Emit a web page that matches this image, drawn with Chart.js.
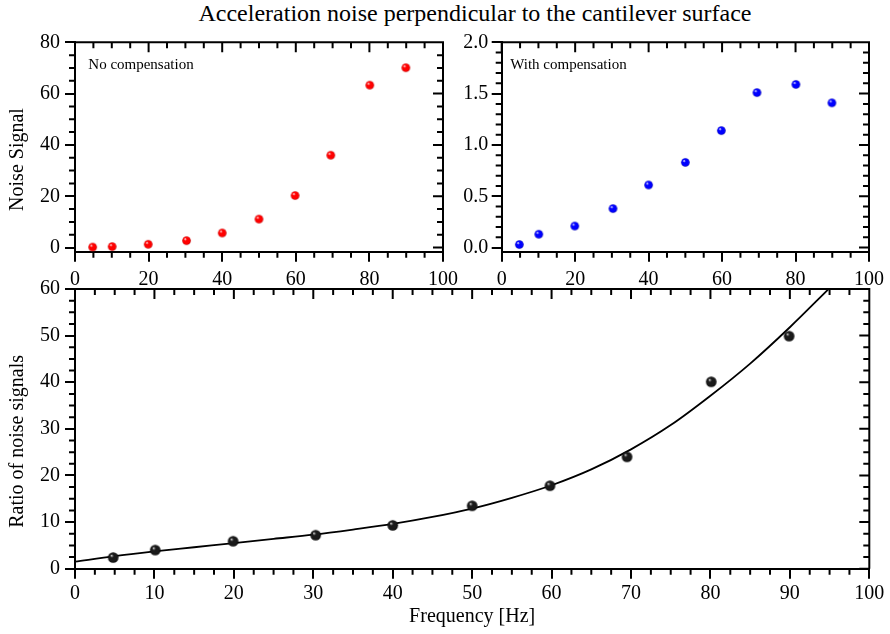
<!DOCTYPE html>
<html>
<head>
<meta charset="utf-8">
<script src="https://cdn.jsdelivr.net/npm/chart.js@4/dist/chart.umd.min.js"></script>
<style>
  html, body { margin: 0; padding: 0; background: #fff; }
  #page { position: relative; width: 890px; height: 634px; overflow: hidden; }
  .box { position: absolute; }
  .box canvas { display: block; }
  #title {
    position: absolute; left: 0; top: 1px; width: 950px;
    text-align: center; color: #000;
    font: 24px 'Liberation Serif', serif; line-height: 24px;
  }
</style>
</head>
<body>
<div id="page">
  <div id="title">Acceleration noise perpendicular to the cantilever surface</div>
  <div class="box" style="left:0;top:20px"><canvas id="cNoComp" width="470" height="270"></canvas></div>
  <div class="box" style="left:440px;top:20px"><canvas id="cComp" width="450" height="270"></canvas></div>
  <div class="box" style="left:0;top:270px"><canvas id="cRatio" width="890" height="364"></canvas></div>
</div>
<script>
// --- data ---
const freqHz = [4.8, 10.1, 19.9, 30.3, 40.0, 50.0, 59.8, 69.5, 80.1, 89.9];
const noCompSignal = [0.2, 0.4, 1.3, 2.7, 5.7, 11.1, 20.3, 36.0, 63.3, 70.1];
const compSignal = [0.03, 0.13, 0.21, 0.38, 0.61, 0.83, 1.14, 1.51, 1.59, 1.41];
const ratioSignal = [2.4, 4.0, 5.9, 7.2, 9.3, 13.5, 17.8, 24.0, 40.1, 49.9];

const fitHz = [0, 5, 10, 15, 20, 25, 30, 35, 40, 45, 50, 55, 60, 65, 70, 75, 80, 85, 90, 95];
const fitRatio = [1.5, 2.7, 3.7, 4.6, 5.5, 6.4, 7.3, 8.4, 9.6, 11.1, 12.9, 15.2, 17.9, 21.3, 25.6, 30.8, 37.1, 44.0, 51.8, 60.2];

// tick labels
const freqTicksTop = [0, 20, 40, 60, 80, 100];
const freqTicksBottom = [0, 10, 20, 30, 40, 50, 60, 70, 80, 90, 100];
const noCompTicks = [0, 20, 40, 60, 80];
const compTicks = [0, 0.5, 1.0, 1.5, 2.0];
const ratioTicks = [0, 10, 20, 30, 40, 50, 60];

const SERIF = "'Liberation Serif', 'Times New Roman', serif";
Chart.defaults.font.family = SERIF;
Chart.defaults.font.size = 20;
Chart.defaults.color = '#000';

const pts = (xs, ys) => xs.map((x, i) => ({ x: x, y: ys[i] }));

// shaded ball marker, used as pointStyle
function makeBall(r, light, mid, dark) {
    const c = document.createElement('canvas');
    const s = Math.ceil(r * 2) + 2;
    c.width = c.height = s;
    const g = c.getContext('2d');
    const cx = s / 2, cy = s / 2;
    const grad = g.createRadialGradient(cx - r * 0.35, cy - r * 0.4, r * 0.05, cx, cy, r);
    grad.addColorStop(0, light);
    grad.addColorStop(0.3, mid);
    grad.addColorStop(0.8, mid);
    grad.addColorStop(1, dark);
    g.fillStyle = grad;
    g.beginPath();
    g.arc(cx, cy, r, 0, Math.PI * 2);
    g.fill();
    return c;
}
const redBall = makeBall(4.3, '#ffffff', '#ff0000', '#c00000');
const blueBall = makeBall(4.3, '#ffffff', '#0000ff', '#0000b0');
const blackBall = makeBall(5.3, '#d8d8d8', '#1a1a1a', '#000000');

// frame on top/right, inward ticks there, minor ticks everywhere
const frameTicks = {
    id: 'frameTicks',
    afterDraw(chart, args, o) {
        const { ctx, chartArea: a } = chart;
        const x = chart.scales.x, y = chart.scales.y;
        const majX = x.ticks.map(t => t.value), majY = y.ticks.map(t => t.value);
        const isMaj = (v, arr) => arr.some(m => Math.abs(m - v) < 1e-6);
        ctx.save();
        ctx.strokeStyle = '#000';
        ctx.lineWidth = 2;
        ctx.beginPath();
        ctx.moveTo(a.left, a.top);
        ctx.lineTo(a.right, a.top);
        ctx.lineTo(a.right, a.bottom);
        for (let k = Math.ceil(x.min / o.xMinor - 1e-9); k * o.xMinor <= x.max + 1e-9; k++) {
            const v = k * o.xMinor, px = x.getPixelForValue(v);
            const major = isMaj(v, majX);
            const len = major ? 10 : 6;
            ctx.moveTo(px, a.top);
            ctx.lineTo(px, a.top + len);
            if (!major) {
                ctx.moveTo(px, a.bottom);
                ctx.lineTo(px, a.bottom + len);
            }
        }
        for (let k = Math.ceil(y.min / o.yMinor - 1e-9); k * o.yMinor <= y.max + 1e-9; k++) {
            const v = k * o.yMinor, py = y.getPixelForValue(v);
            const major = isMaj(v, majY);
            const len = major ? 10 : 6;
            ctx.moveTo(a.right, py);
            ctx.lineTo(a.right - len, py);
            if (!major) {
                ctx.moveTo(a.left, py);
                ctx.lineTo(a.left - len, py);
            }
        }
        ctx.stroke();
        if (o.label) {
            ctx.fillStyle = '#000';
            ctx.font = '15px ' + SERIF;
            ctx.textBaseline = 'alphabetic';
            ctx.fillText(o.label, a.left + o.labelDx, a.top + 27);
        }
        ctx.restore();
    }
};

function xAxis(tickVals, height, pad, title) {
    return {
        type: 'linear', min: 0, max: 100,
        afterBuildTicks: s => { s.ticks = tickVals.map(v => ({ value: v })); },
        afterFit: s => { s.height = height; },
        ticks: { padding: pad, maxRotation: 0, font: { family: SERIF, size: 20 } },
        grid: { drawOnChartArea: false, tickLength: 10, color: '#000', lineWidth: 2 },
        border: { color: '#000', width: 2 },
        title: title
            ? { display: true, text: title, font: { family: SERIF, size: 20 }, padding: { top: 0, bottom: 5 } }
            : { display: false }
    };
}

function yAxis(tickVals, min, max, width, pad, fmt, title) {
    return {
        type: 'linear', min: min, max: max,
        afterBuildTicks: s => { s.ticks = tickVals.map(v => ({ value: v })); },
        afterFit: s => { s.width = width; },
        ticks: { padding: pad, callback: fmt, font: { family: SERIF, size: 20 } },
        grid: { drawOnChartArea: false, tickLength: 10, color: '#000', lineWidth: 2 },
        border: { color: '#000', width: 2 },
        title: title
            ? { display: true, text: title, font: { family: SERIF, size: 20 }, padding: { top: 5.5, bottom: 0 } }
            : { display: false }
    };
}

const baseOpts = {
    responsive: false,
    animation: false,
    events: []
};

new Chart(document.getElementById('cNoComp'), {
    type: 'scatter',
    data: {
        datasets: [{
            label: 'No compensation',
            data: pts(freqHz, noCompSignal),
            pointStyle: redBall,
            pointRadius: 5
        }]
    },
    options: {
        ...baseOpts,
        layout: { padding: { left: 0, top: 22.3, right: 27, bottom: 0 } },
        plugins: {
            legend: { display: false },
            tooltip: { enabled: false },
            frameTicks: { xMinor: 5, yMinor: 5, label: 'No compensation', labelDx: 13.3 }
        },
        scales: {
            x: xAxis(freqTicksTop, 38.3, 6),
            y: yAxis(noCompTicks, -1.6, 80, 75, 5, v => v, 'Noise Signal     ')
        }
    },
    plugins: [frameTicks]
});

new Chart(document.getElementById('cComp'), {
    type: 'scatter',
    data: {
        datasets: [{
            label: 'With compensation',
            data: pts(freqHz, compSignal),
            pointStyle: blueBall,
            pointRadius: 5
        }]
    },
    options: {
        ...baseOpts,
        layout: { padding: { left: 0, top: 22.3, right: 20.7, bottom: 0 } },
        plugins: {
            legend: { display: false },
            tooltip: { enabled: false },
            frameTicks: { xMinor: 5, yMinor: 0.1, label: 'With compensation', labelDx: 8.5 }
        },
        scales: {
            x: xAxis(freqTicksTop, 38.3, 6),
            y: yAxis(compTicks, -0.04, 2.0, 61.7, 3.5, v => v.toFixed(1))
        }
    },
    plugins: [frameTicks]
});

new Chart(document.getElementById('cRatio'), {
    type: 'line',
    data: {
        datasets: [{
            label: 'Ratio',
            data: pts(freqHz, ratioSignal),
            showLine: false,
            pointStyle: blackBall,
            pointRadius: 6
        }, {
            label: 'Fit',
            data: pts(fitHz, fitRatio),
            borderColor: '#000',
            borderWidth: 1.8,
            pointRadius: 0,
            cubicInterpolationMode: 'monotone'
        }]
    },
    options: {
        ...baseOpts,
        layout: { padding: { left: 0, top: 19, right: 20.7, bottom: 0 } },
        plugins: {
            legend: { display: false },
            tooltip: { enabled: false },
            frameTicks: { xMinor: 2.5, yMinor: 2.5 }
        },
        scales: {
            x: xAxis(freqTicksBottom, 65.3, 3, 'Frequency [Hz]'),
            y: yAxis(ratioTicks, 0, 60, 75, 5, v => v, 'Ratio of noise signals     ')
        }
    },
    plugins: [frameTicks]
});
</script>
</body>
</html>
